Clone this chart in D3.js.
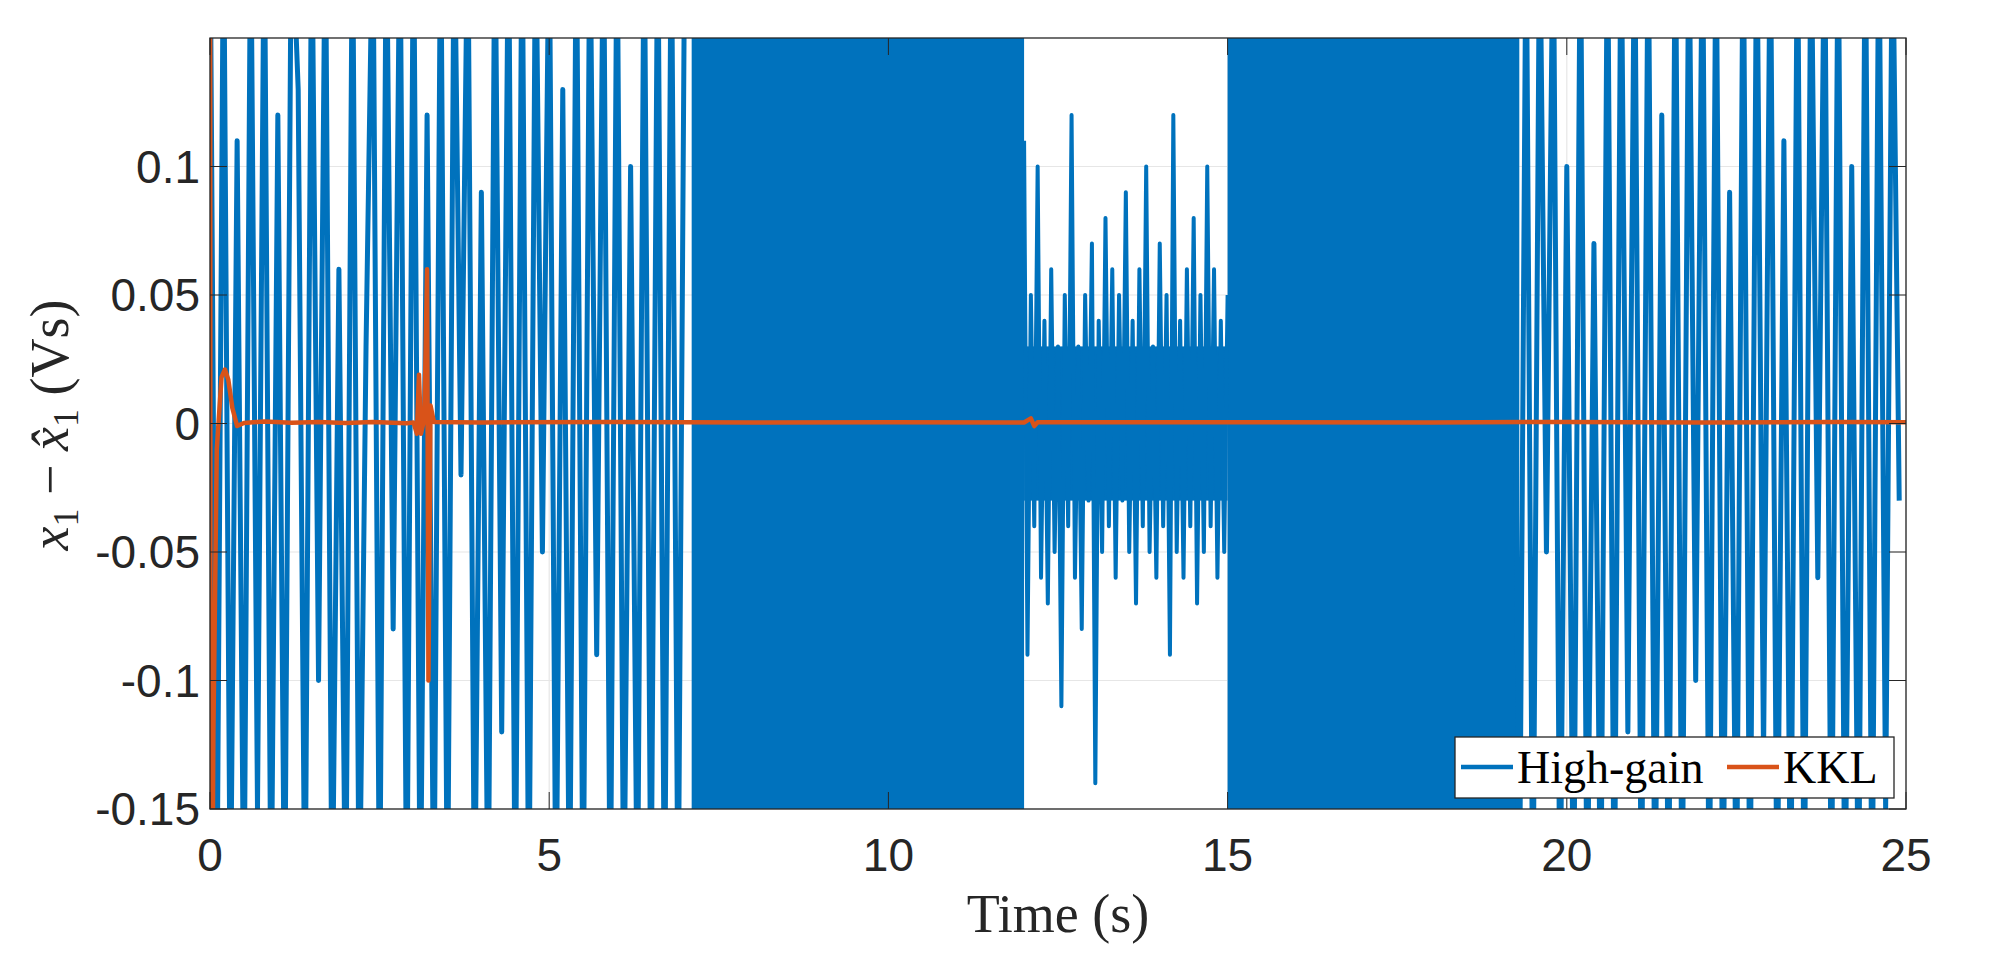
<!DOCTYPE html>
<html><head><meta charset="utf-8">
<script src="https://cdn.jsdelivr.net/npm/d3@7"></script>
<style>body{margin:0;background:#fff}</style></head>
<body><svg id="c" width="2000" height="965"></svg>
<script>
// ---- data ----
const xTicks = [0,5,10,15,20,25];
const yTicks = [-0.15,-0.1,-0.05,0,0.05,0.1];
const yTickLabels = ["-0.15","-0.1","-0.05","0","0.05","0.1"];
// solid envelope regions of high-gain error [tStart, tEnd, lo, hi]
const hgBands = [[7.1,12.0,-0.2,0.2],[12.0,15.0,-0.03,0.03],[15.0,19.3,-0.2,0.2]];
// high-gain samples, segment 1: t = 0..7, step 0.1
const hg1Start = 0, hg1Step = 0.1;
const hg1 = [0.2,-0.2,0.2,-0.2,0.11,-0.2,0.2,-0.15,0.2,-0.2,0.12,-0.2,0.2,0.13,-0.2,0.2,-0.1,0.2,-0.2,0.06,-0.2,0.2,-0.2,0.03,0.2,-0.2,0.2,-0.08,0.2,-0.2,0.2,-0.2,0.12,-0.2,0.2,-0.2,0.2,-0.02,0.2,-0.2,0.09,-0.2,0.2,-0.12,0.2,-0.2,0.2,-0.2,0.2,-0.05,0.2,-0.2,0.13,-0.2,0.2,-0.2,0.2,-0.09,0.2,-0.2,0.2,-0.2,0.1,-0.2,0.2,-0.2,0.2,-0.2,0.2,-0.2,0.2];
// segment 2: t = 12..15, step 0.05
const hg2Start = 12.0, hg2Step = 0.05;
const hg2 = [0.11,-0.09,0.05,-0.04,0.1,-0.06,0.04,-0.07,0.06,-0.05,0.03,-0.11,0.05,-0.04,0.12,-0.06,0.03,-0.08,0.05,-0.03,0.07,-0.14,0.04,-0.05,0.08,-0.04,0.06,-0.06,0.05,-0.03,0.09,-0.05,0.04,-0.07,0.06,-0.04,0.1,-0.05,0.03,-0.06,0.07,-0.04,0.05,-0.09,0.12,-0.05,0.04,-0.06,0.06,-0.04,0.08,-0.07,0.05,-0.05,0.1,-0.04,0.06,-0.06,0.04,-0.05,0.05];
// segment 3: t = 19.2..25, step 0.1
const hg3Start = 19.2, hg3Step = 0.1;
const hg3 = [0.2,-0.2,0.2,-0.2,0.2,-0.05,0.2,-0.2,0.1,-0.2,0.2,-0.2,0.07,-0.2,0.2,-0.2,0.2,-0.12,0.2,-0.2,0.2,-0.2,0.12,-0.2,0.2,-0.2,0.2,-0.1,0.2,-0.2,0.2,-0.2,0.09,-0.2,0.2,-0.2,0.2,-0.13,0.2,-0.2,0.11,-0.2,0.2,-0.2,0.2,-0.06,0.2,-0.2,0.2,-0.2,0.1,-0.2,0.2,-0.2,0.2,-0.15,0.2,-0.03];
// KKL error [t, value]
const kkl = [[0,0.3],[0.01,-0.3],[0.05,-0.12],[0.1,-0.01],[0.17,0.018],[0.22,0.021],[0.27,0.017],[0.33,0.006],[0.4,-0.001],[0.5,0.0002],[0.8,0.0008],[1.2,0.0003],[1.6,0.0006],[2.0,0.0002],[2.4,0.0006],[2.9,0.0001],[3.0,0.0004],[3.05,-0.004],[3.08,0.019],[3.11,-0.004],[3.16,0.002],[3.2,0.06],[3.22,-0.1],[3.25,0.007],[3.3,0.0006],[4,0.0004],[6,0.0006],[8,0.0004],[10,0.0005],[12,0.0004],[12.1,0.002],[12.15,-0.001],[12.2,0.0005],[15,0.0005],[18,0.0004],[20,0.0006],[22,0.0004],[24,0.0006],[25,0.0005]];

// ---- chart ----
const svg = d3.select("#c");
const L=210,R=1906,T=38,B=809;
const x = d3.scaleLinear().domain([0,25]).range([L,R]);
const y = d3.scaleLinear().domain([-0.15,0.15]).range([B,T]);
svg.append("defs").append("clipPath").attr("id","cp").append("rect").attr("x",L).attr("y",T).attr("width",R-L).attr("height",B-T);
const g = svg.append("g");
g.selectAll(".gx").data(xTicks).join("line").attr("x1",d=>x(d)).attr("x2",d=>x(d)).attr("y1",T).attr("y2",B).attr("stroke","#e6e6e6").attr("stroke-width",1.2);
g.selectAll(".gy").data(yTicks).join("line").attr("y1",d=>y(d)).attr("y2",d=>y(d)).attr("x1",L).attr("x2",R).attr("stroke","#e6e6e6").attr("stroke-width",1.2);
const pg = g.append("g").attr("clip-path","url(#cp)");
const blue="#0072BD", orange="#D95319";
pg.selectAll(".band").data(hgBands).join("rect").attr("x",d=>x(d[0])).attr("width",d=>x(d[1])-x(d[0])).attr("y",d=>y(d[3])).attr("height",d=>y(d[2])-y(d[3])).attr("fill",blue);
const line = d3.line().x(d=>x(d[0])).y(d=>y(d[1]));
[[hg1Start,hg1Step,hg1,5],[hg2Start,hg2Step,hg2,4],[hg3Start,hg3Step,hg3,5]].forEach(([s,st,arr,w])=>{
  pg.append("path").attr("d",line(arr.map((v,i)=>[s+i*st,v]))).attr("fill","none").attr("stroke",blue).attr("stroke-width",w).attr("stroke-linejoin","round");
});
pg.append("path").attr("d",line(kkl)).attr("fill","none").attr("stroke",orange).attr("stroke-width",4.5).attr("stroke-linejoin","round");
g.append("rect").attr("x",L).attr("y",T).attr("width",R-L).attr("height",B-T).attr("fill","none").attr("stroke","#262626").attr("stroke-width",1.3);
g.selectAll(".tx").data(xTicks).join("line").attr("x1",d=>x(d)).attr("x2",d=>x(d)).attr("y1",B).attr("y2",B-17).attr("stroke","#262626");
g.selectAll(".tx2").data(xTicks).join("line").attr("x1",d=>x(d)).attr("x2",d=>x(d)).attr("y1",T).attr("y2",T+17).attr("stroke","#262626");
g.selectAll(".ty").data(yTicks).join("line").attr("y1",d=>y(d)).attr("y2",d=>y(d)).attr("x1",L).attr("x2",L+17).attr("stroke","#262626");
g.selectAll(".ty2").data(yTicks).join("line").attr("y1",d=>y(d)).attr("y2",d=>y(d)).attr("x1",R).attr("x2",R-17).attr("stroke","#262626");
const tf = "'Liberation Sans', Arial, sans-serif";
g.selectAll(".lx").data(xTicks).join("text").attr("x",d=>x(d)).attr("y",B+62).attr("text-anchor","middle").attr("font-family",tf).attr("font-size",46).attr("fill","#262626").text(d=>d);
g.selectAll(".ly").data(yTicks).join("text").attr("x",L-10).attr("y",d=>y(d)+16).attr("text-anchor","end").attr("font-family",tf).attr("font-size",46).attr("fill","#262626").text((d,i)=>yTickLabels[i]);
svg.append("text").attr("x",(L+R)/2).attr("y",932).attr("text-anchor","middle").attr("font-family","'Liberation Serif',serif").attr("font-size",54).attr("fill","#262626").text("Time (s)");
const yl = svg.append("text").attr("transform","translate(68,425) rotate(-90)").attr("text-anchor","middle").attr("font-family","'Liberation Serif',serif").attr("font-size",54).attr("fill","#262626");
yl.append("tspan").attr("font-style","italic").text("x");
yl.append("tspan").attr("font-size",36).attr("dy",10).text("1");
yl.append("tspan").attr("dy",-10).text(" − ");
yl.append("tspan").attr("font-style","italic").text("x̂");
yl.append("tspan").attr("font-size",36).attr("dy",10).text("1");
yl.append("tspan").attr("dy",-10).text("  (Vs)");
const lg = svg.append("g");
lg.append("rect").attr("x",1455).attr("y",737).attr("width",439).attr("height",61).attr("fill","#fff").attr("stroke","#262626").attr("stroke-width",1.3);
const items=[["High-gain",blue,1461],["KKL",orange,1727]];
items.forEach(([t,c,x0])=>{
  lg.append("line").attr("x1",x0).attr("x2",x0+52).attr("y1",767).attr("y2",767).attr("stroke",c).attr("stroke-width",4.5);
  lg.append("text").attr("x",x0+56).attr("y",783).attr("font-family","'Liberation Serif',serif").attr("font-size",46).attr("fill","#000").text(t);
});
</script></body></html>
